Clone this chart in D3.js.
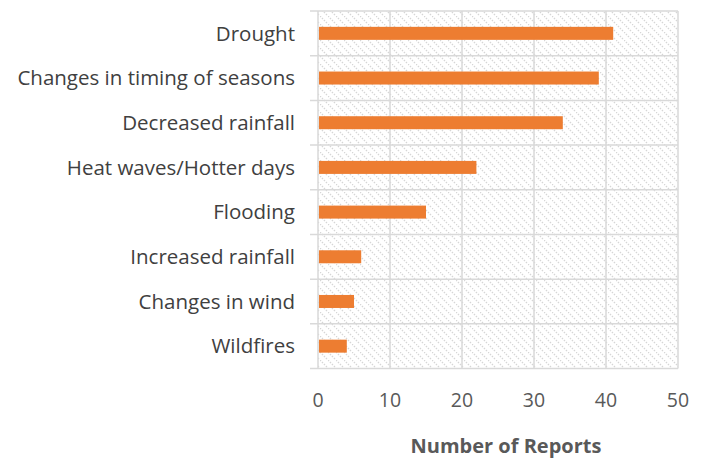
<!DOCTYPE html>
<html>
<head>
<meta charset="utf-8">
<script src="https://cdn.jsdelivr.net/npm/d3@7"></script>
<style>
  body { margin: 0; background: #fff; }
  text { font-family: "Open Sans", Lato, sans-serif; }
</style>
</head>
<body>
<div id="chart"></div>
<script>
// Chart data
const categories = [
  "Drought",
  "Changes in timing of seasons",
  "Decreased rainfall",
  "Heat waves/Hotter days",
  "Flooding",
  "Increased rainfall",
  "Changes in wind",
  "Wildfires"
];
const reports = [41, 39, 34, 22, 15, 6, 5, 4];
const xTicks = [0, 10, 20, 30, 40, 50];
const xTitle = "Number of Reports";

const w = 707;
const h = 458;
const plotLeft = 318, plotRight = 678, plotTop = 11, plotBottom = 368.5;

const svg = d3.select("#chart")
  .append("svg")
  .attr("width", w)
  .attr("height", h);

// Hatched background pattern
const defs = svg.append("defs");
const pat = defs.append("pattern")
  .attr("id", "hatch")
  .attr("patternUnits", "userSpaceOnUse")
  .attr("width", 8)
  .attr("height", 8);
pat.append("path")
  .attr("d", "M0,0 L8,8 M-4,4 L0,8 M4,-4 L8,0")
  .attr("stroke", "#d6d6d6")
  .attr("stroke-width", 1.4)
  .attr("stroke-dasharray", "1.4,1.4");

const xScale = d3.scaleLinear()
  .domain([0, 50])
  .range([plotLeft, plotRight]);

const yScale = d3.scaleBand()
  .domain(categories)
  .range([plotTop, plotBottom]);

svg.append("rect")
  .attr("x", plotLeft)
  .attr("y", plotTop)
  .attr("width", plotRight - plotLeft)
  .attr("height", plotBottom - plotTop)
  .attr("fill", "url(#hatch)");

// Vertical gridlines
svg.append("g")
  .selectAll("line")
  .data(xTicks)
  .enter()
  .append("line")
  .attr("x1", (d) => xScale(d))
  .attr("x2", (d) => xScale(d))
  .attr("y1", plotTop)
  .attr("y2", plotBottom)
  .attr("stroke", "#d9d9d9")
  .attr("stroke-width", 1.5);

// Horizontal gridlines at category boundaries (with tick stubs on the left)
const bounds = categories.map((c) => yScale(c)).concat([plotBottom]);
svg.append("g")
  .selectAll("line")
  .data(bounds)
  .enter()
  .append("line")
  .attr("x1", plotLeft - 8)
  .attr("x2", plotRight)
  .attr("y1", (d) => d)
  .attr("y2", (d) => d)
  .attr("stroke", "#d9d9d9")
  .attr("stroke-width", 1.5);

// Bars
const barH = 13;
svg.append("g")
  .selectAll("rect")
  .data(reports)
  .enter()
  .append("rect")
  .attr("x", xScale(0) + 1)
  .attr("y", (d, i) => yScale(categories[i]) + yScale.bandwidth() / 2 - barH / 2)
  .attr("width", (d) => xScale(d) - xScale(0) - 1)
  .attr("height", barH)
  .attr("fill", "#ed7d31");

// Category labels
svg.append("g")
  .selectAll("text")
  .data(categories)
  .enter()
  .append("text")
  .attr("x", 295)
  .attr("y", (d) => yScale(d) + yScale.bandwidth() / 2)
  .attr("dy", "0.35em")
  .attr("text-anchor", "end")
  .attr("fill", "#404040")
  .style("font-size", "20.5px")
  .text((d) => d);

// X tick labels
svg.append("g")
  .selectAll("text")
  .data(xTicks)
  .enter()
  .append("text")
  .attr("x", (d) => xScale(d))
  .attr("y", 400)
  .attr("dy", "0.35em")
  .attr("text-anchor", "middle")
  .attr("fill", "#595959")
  .style("font-size", "19.5px")
  .text((d) => d);

// Axis title
svg.append("text")
  .attr("x", 506)
  .attr("y", 446)
  .attr("dy", "0.35em")
  .attr("text-anchor", "middle")
  .attr("fill", "#595959")
  .style("font-size", "20px")
  .style("font-weight", "bold")
  .text(xTitle);
</script>
</body>
</html>
